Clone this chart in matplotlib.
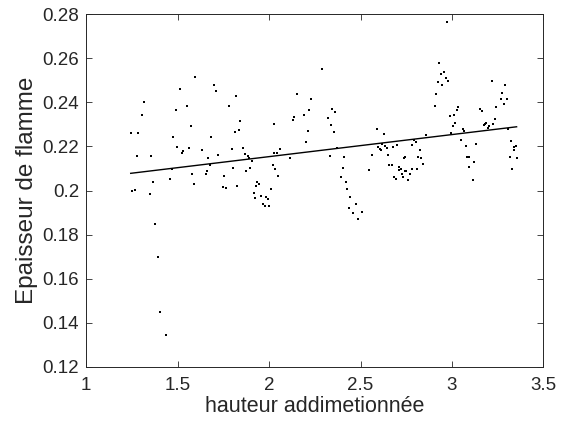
"""Epaisseur de flamme vs hauteur addimetionnée"""
import matplotlib
matplotlib.use("Agg")
import matplotlib.pyplot as plt
from matplotlib.ticker import FuncFormatter

plt.rcParams["font.family"] = ["Liberation Sans", "DejaVu Sans"]

# points
hauteur = [
    1.597, 1.515, 1.315, 1.492, 1.554, 1.308, 1.572, 1.244, 1.286, 1.475,
    1.499, 1.563, 1.532, 1.525, 1.277, 1.357, 1.468, 1.579, 1.459, 1.364,
    1.588, 1.250, 1.268, 1.348, 1.379, 1.395, 1.403, 1.435,
    1.699, 1.709, 1.818, 1.780, 1.843, 1.812, 1.836, 1.685, 1.636, 1.669,
    1.723, 1.796, 1.858, 1.867, 1.884, 1.892, 1.909, 1.676, 1.663, 1.656,
    1.756, 1.803, 1.876, 1.898, 1.749, 1.764, 1.827, 1.934, 1.944, 1.931,
    2.011, 2.026, 2.044, 2.060, 2.116, 2.020, 2.035, 2.051, 2.027, 2.129,
    2.138, 2.155, 2.193,
    1.916, 1.956, 1.923, 1.985, 1.995, 1.965, 1.976, 2.002,
    2.291, 2.228, 2.219, 2.346, 2.362, 2.324, 2.339, 2.354, 2.211, 2.203,
    2.372, 2.332, 2.411, 2.404, 2.395, 2.419, 2.428, 2.589, 2.627, 2.620,
    2.596, 2.607, 2.612, 2.636, 2.647, 2.676, 2.698, 2.563, 2.650, 2.739,
    2.546, 2.657, 2.670, 2.710, 2.719, 2.709, 2.749, 2.685, 2.694, 2.727,
    2.732, 2.761, 2.769,
    2.443, 2.474, 2.435, 2.459, 2.507, 2.485,
    2.971, 2.929, 2.955, 2.942, 2.966, 2.980, 2.923, 2.947, 2.914, 2.907,
    3.035, 3.026, 3.013, 2.989, 3.016, 3.004, 2.995, 3.060, 3.066, 3.051,
    3.075, 3.131, 3.082, 3.093, 3.122, 3.091, 3.115, 3.153, 3.162, 3.217,
    3.291, 3.273, 3.268, 3.301, 3.282, 3.242, 3.235, 3.226, 3.202, 3.180,
    3.173, 3.186, 3.197, 3.304, 3.321, 3.341, 3.350, 3.337, 3.315, 3.353,
    3.329,
    2.856, 2.794, 2.801, 2.783, 2.825, 2.743, 2.816, 2.831, 2.840, 2.783,
    2.810, 2.743, 2.770,
]
epaisseur = [
    0.2513, 0.2461, 0.2401, 0.2365, 0.2384, 0.2342, 0.2292, 0.2259, 0.2259, 0.2241,
    0.2197, 0.2194, 0.2180, 0.2171, 0.2156, 0.2156, 0.2096, 0.2075, 0.2053, 0.2038,
    0.2029, 0.1999, 0.2002, 0.1984, 0.1847, 0.1700, 0.1451, 0.1345,
    0.2480, 0.2451, 0.2428, 0.2384, 0.2316, 0.2267, 0.2273, 0.2241, 0.2185, 0.2146,
    0.2161, 0.2187, 0.2194, 0.2165, 0.2156, 0.2146, 0.2135, 0.2114, 0.2087, 0.2075,
    0.2067, 0.2100, 0.2088, 0.2103, 0.2017, 0.2011, 0.2020, 0.2038, 0.2029, 0.2020,
    0.2008, 0.2168, 0.2171, 0.2189, 0.2146, 0.2114, 0.2097, 0.2066, 0.2300, 0.2321,
    0.2334, 0.2437, 0.2343,
    0.1989, 0.1976, 0.1965, 0.1969, 0.1961, 0.1939, 0.1930, 0.1931,
    0.2551, 0.2413, 0.2364, 0.2369, 0.2354, 0.2329, 0.2297, 0.2264, 0.2270, 0.2218,
    0.2194, 0.2158, 0.2150, 0.2102, 0.2061, 0.2040, 0.2007, 0.2277, 0.2256, 0.2211,
    0.2198, 0.2189, 0.2183, 0.2200, 0.2191, 0.2198, 0.2205, 0.2162, 0.2159, 0.2147,
    0.2093, 0.2115, 0.2115, 0.2108, 0.2097, 0.2091, 0.2090, 0.2063, 0.2053, 0.2073,
    0.2063, 0.2049, 0.2076,
    0.1970, 0.1939, 0.1919, 0.1899, 0.1904, 0.1871,
    0.2764, 0.2576, 0.2536, 0.2527, 0.2509, 0.2498, 0.2492, 0.2477, 0.2436, 0.2383,
    0.2380, 0.2366, 0.2344, 0.2336, 0.2305, 0.2292, 0.2262, 0.2277, 0.2270, 0.2229,
    0.2202, 0.2212, 0.2153, 0.2152, 0.2130, 0.2108, 0.2049, 0.2368, 0.2360, 0.2498,
    0.2478, 0.2443, 0.2413, 0.2413, 0.2393, 0.2380, 0.2323, 0.2303, 0.2291, 0.2303,
    0.2298, 0.2306, 0.2282, 0.2277, 0.2226, 0.2198, 0.2202, 0.2183, 0.2152, 0.2149,
    0.2096,
    0.2251, 0.2229, 0.2221, 0.2206, 0.2183, 0.2153, 0.2153, 0.2147, 0.2120, 0.2099,
    0.2099, 0.2090, 0.2075,
]
# droite de régression (extrémités lues)
fit_x = [1.244, 3.353]
fit_y = [0.2078, 0.2289]

x_ticks = [1, 1.5, 2, 2.5, 3, 3.5]
y_ticks = [0.12, 0.14, 0.16, 0.18, 0.2, 0.22, 0.24, 0.26, 0.28]

gris = "#262626"

fig = plt.figure(figsize=(5.7, 4.26), dpi=100)
ax = fig.add_axes([0.151, 0.1385, 0.8025, 0.8285])
ax.plot(hauteur, epaisseur, linestyle="none", marker="s", markersize=2.0,
        color="black", markeredgewidth=0)
ax.plot(fit_x, fit_y, color="black", linewidth=1)

ax.set_xlim(1, 3.5)
ax.set_ylim(0.12, 0.28)
ax.set_xticks(x_ticks)
ax.set_yticks(y_ticks)
ax.xaxis.set_major_formatter(FuncFormatter(lambda v, p: f"{v:g}"))
ax.yaxis.set_major_formatter(FuncFormatter(lambda v, p: f"{v:g}"))
ax.tick_params(direction="in", top=True, right=True, length=4, width=0.6,
               colors=gris, labelsize=13.5)
ax.tick_params(axis="x", pad=7)
ax.tick_params(axis="y", pad=5)
for s in ax.spines.values():
    s.set_color(gris)
    s.set_linewidth(0.7)

ax.set_xlabel("hauteur addimetionnée", fontsize=15.5, color=gris, labelpad=2)
ax.set_ylabel("Epaisseur de flamme", fontsize=17.5, color=gris, labelpad=3)

plt.savefig("out.png", dpi=100)
plt.close()
